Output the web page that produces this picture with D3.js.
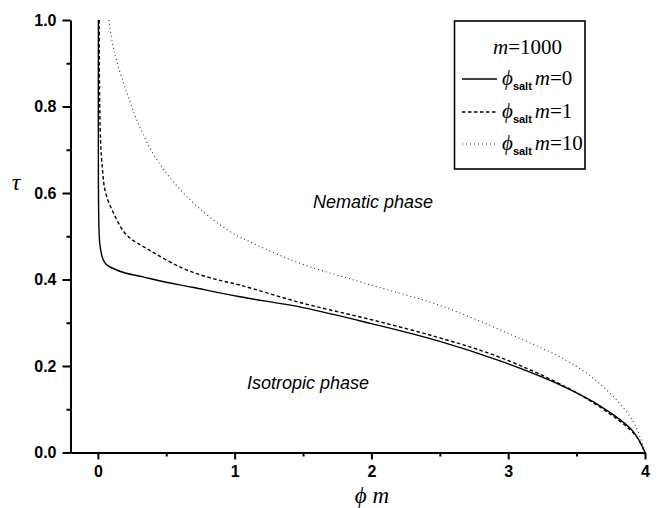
<!DOCTYPE html>
<html>
<head>
<meta charset="utf-8">
<script src="https://cdn.jsdelivr.net/npm/d3@7"></script>
<style>
  body { margin: 0; background: #fff; }
  svg { display: block; }
  .tick text { font-family: "Liberation Sans", Arial, sans-serif; font-weight: bold; font-size: 16px; }
</style>
</head>
<body>
<div id="chart"></div>
<script>
// Dados: phi*m (eixo x) e tau (eixo y)
const phiM_0 = [0.004, 0.004, 0.008, 0.015, 0.035, 0.06, 0.108, 0.2, 0.33, 0.45, 0.69, 1.04, 1.5, 2.0, 2.5, 2.94, 3.31, 3.67, 3.91, 4.0];
const tau_0 = [1.0, 0.63, 0.52, 0.48, 0.449, 0.435, 0.426, 0.415, 0.406, 0.397, 0.382, 0.36, 0.335, 0.298, 0.257, 0.212, 0.166, 0.108, 0.05, 0.0];

const phiM_1 = [0.01, 0.012, 0.02, 0.035, 0.055, 0.12, 0.21, 0.377, 0.62, 0.82, 1.04, 1.5, 2.0, 2.5, 2.94, 3.43, 3.74, 3.93, 4.0];
const tau_1 = [1.0, 0.85, 0.72, 0.65, 0.602, 0.55, 0.503, 0.468, 0.426, 0.404, 0.387, 0.345, 0.307, 0.265, 0.22, 0.15, 0.09, 0.04, 0.0];

const phiM_10 = [0.08, 0.12, 0.21, 0.29, 0.41, 0.56, 0.74, 0.96, 1.18, 1.5, 2.0, 2.5, 3.01, 3.43, 3.67, 3.91, 4.0];
const tau_10 = [1.0, 0.926, 0.834, 0.765, 0.688, 0.623, 0.565, 0.512, 0.477, 0.435, 0.387, 0.34, 0.274, 0.212, 0.159, 0.074, 0.0];

const seriesLabels = ['0', '1', '10'];
const xTicks = [0, 1, 2, 3, 4];
const xMinorTicks = [0.5, 1.5, 2.5, 3.5];
const yTicks = [0.0, 0.2, 0.4, 0.6, 0.8, 1.0];
const yMinorTicks = [0.1, 0.3, 0.5, 0.7, 0.9];

// Configurações
const width = 657;
const height = 508;
const plotLeft = 70.5, plotRight = 645, plotTop = 20, plotBottom = 452.5;

const svg = d3.select('#chart')
  .append('svg')
  .attr('width', width)
  .attr('height', height);

const x = d3.scaleLinear().domain([-0.2, 4]).range([plotLeft, plotRight]);
const y = d3.scaleLinear().domain([0, 1]).range([plotBottom, plotTop]);

// Eixo x
const gx = svg.append('g').attr('transform', `translate(0,${plotBottom})`);
gx.call(d3.axisBottom(x).tickValues(xTicks).tickFormat(d3.format('d')).tickSize(7).tickPadding(6).tickSizeOuter(0));
gx.append('g').call(d3.axisBottom(x).tickValues(xMinorTicks).tickFormat('').tickSize(4).tickSizeOuter(0))
  .select('.domain').remove();

// Eixo y
const gy = svg.append('g').attr('transform', `translate(${plotLeft},0)`);
gy.call(d3.axisLeft(y).tickValues(yTicks).tickFormat(d3.format('.1f')).tickSize(8).tickPadding(6).tickSizeOuter(0));
gy.append('g').call(d3.axisLeft(y).tickValues(yMinorTicks).tickFormat('').tickSize(4).tickSizeOuter(0))
  .select('.domain').remove();

svg.selectAll('.domain').attr('stroke', '#000').attr('stroke-width', 2);
svg.selectAll('.tick line').attr('stroke', '#000').attr('stroke-width', 2);
svg.selectAll('.tick text').attr('fill', '#000');

// Curvas
const series = [
  { phi: phiM_0, tau: tau_0, dash: null, width: 1.4, color: '#000' },
  { phi: phiM_1, tau: tau_1, dash: '3.5,2.5', width: 1.4, color: '#000' },
  { phi: phiM_10, tau: tau_10, dash: '1,3', width: 1.1, color: '#333' }
];

const line = d3.line()
  .x(d => x(d[0]))
  .y(d => y(d[1]))
  .curve(d3.curveCatmullRom.alpha(0.5));

series.forEach(s => {
  svg.append('path')
    .datum(s.phi.map((p, i) => [p, s.tau[i]]))
    .attr('fill', 'none')
    .attr('stroke', s.color)
    .attr('stroke-width', s.width)
    .attr('stroke-dasharray', s.dash)
    .attr('d', line);
});

// Rótulos dos eixos
svg.append('text')
  .attr('x', 372).attr('y', 503)
  .attr('text-anchor', 'middle')
  .style('font-family', '"Liberation Serif", "DejaVu Serif", serif')
  .style('font-style', 'italic')
  .style('font-size', '23px')
  .text('\u03D5 m');

svg.append('text')
  .attr('x', 16).attr('y', 190)
  .attr('text-anchor', 'middle')
  .style('font-family', '"Liberation Serif", "DejaVu Serif", serif')
  .style('font-style', 'italic')
  .style('font-size', '24px')
  .text('\u03C4');

// Regiões de fase
svg.append('text')
  .attr('x', 373).attr('y', 208)
  .attr('text-anchor', 'middle')
  .style('font-family', '"Liberation Sans", Arial, sans-serif')
  .style('font-style', 'italic')
  .style('font-size', '18px')
  .text('Nematic phase');

svg.append('text')
  .attr('x', 308).attr('y', 389)
  .attr('text-anchor', 'middle')
  .style('font-family', '"Liberation Sans", Arial, sans-serif')
  .style('font-style', 'italic')
  .style('font-size', '18px')
  .text('Isotropic phase');

// Legenda
const legend = svg.append('g');
legend.append('rect')
  .attr('x', 454.5).attr('y', 21)
  .attr('width', 130.5).attr('height', 148)
  .attr('fill', '#fff')
  .attr('stroke', '#000')
  .attr('stroke-width', 1.6);

const serif = '"Liberation Serif", "DejaVu Serif", serif';
const title = legend.append('text')
  .attr('x', 493).attr('y', 54)
  .style('font-family', serif)
  .style('font-size', '21px');
title.append('tspan').style('font-style', 'italic').text('m');
title.append('tspan').text('=1000');

const rowY = [79, 112, 144];
series.forEach((s, i) => {
  legend.append('line')
    .attr('x1', 462).attr('x2', 497)
    .attr('y1', rowY[i]).attr('y2', rowY[i])
    .attr('stroke', s.color)
    .attr('stroke-width', s.width)
    .attr('stroke-dasharray', s.dash);

  const t = legend.append('text')
    .attr('x', 502).attr('y', rowY[i] + 6)
    .style('font-family', serif)
    .style('font-size', '21px');
  t.append('tspan').style('font-style', 'italic').text('\u03D5');
  t.append('tspan')
    .attr('dy', 5)
    .style('font-family', '"Liberation Sans", Arial, sans-serif')
    .style('font-weight', 'bold')
    .style('font-size', '11px')
    .text('salt');
  t.append('tspan')
    .attr('dy', -5)
    .attr('dx', 3)
    .style('font-style', 'italic')
    .text('m');
  t.append('tspan').text('=' + seriesLabels[i]);
});
</script>
</body>
</html>
